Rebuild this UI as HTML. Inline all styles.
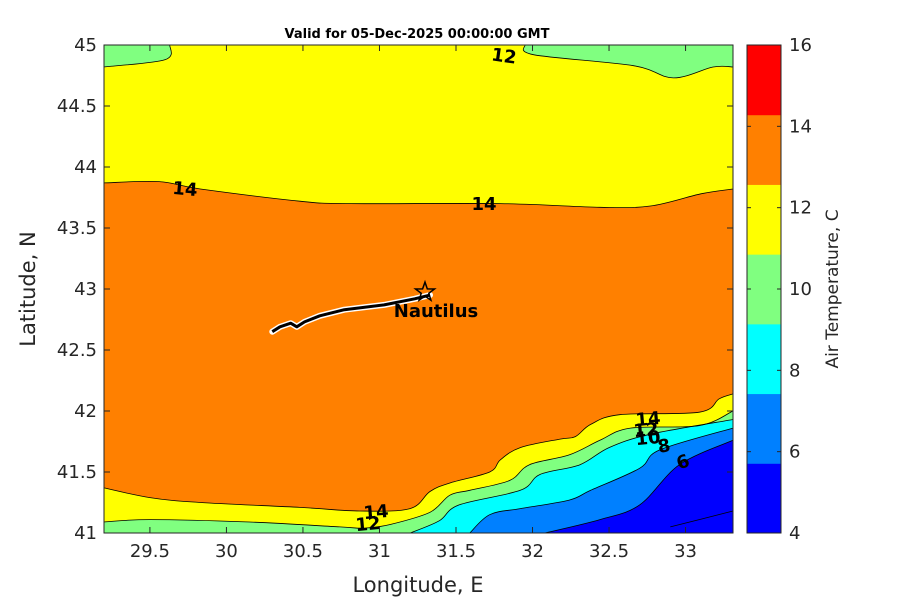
<!DOCTYPE html>
<html><head><meta charset="utf-8"><style>
body{margin:0;background:#fff;}
svg text{font-family:"DejaVu Sans","Liberation Sans",sans-serif;}
</style></head><body>
<svg id="chart" width="900" height="600" xmlns="http://www.w3.org/2000/svg">
<rect width="900" height="600" fill="#fff"/>
<g id="plot"></g>
<g id="axes"></g>
<g id="cbar"></g>
<text x="417" y="38" text-anchor="middle" font-size="13" font-weight="bold">Valid for 05-Dec-2025 00:00:00 GMT</text>
<text x="418" y="592" text-anchor="middle" font-size="21" fill="#262626">Longitude, E</text>
<text transform="translate(35,289) rotate(-90)" text-anchor="middle" font-size="21" fill="#262626">Latitude, N</text>
<text transform="translate(838,289) rotate(-90)" text-anchor="middle" font-size="17" fill="#262626">Air Temperature, C</text>
</svg>
<script>
const lonMin=29.2, lonMax=33.31, latMin=41, latMax=45;
const X0=104,X1=733,Y0=45,Y1=533;
function xs(lon){return X0+(lon-lonMin)/(lonMax-lonMin)*(X1-X0);}
function ys(lat){return Y1-(lat-latMin)/(latMax-latMin)*(Y1-Y0);}
const xTicks=[29.5,30,30.5,31,31.5,32,32.5,33];
const yTicks=[41,41.5,42,42.5,43,43.5,44,44.5,45];
const cLevels=[4,6,8,10,12,14,16];
const cColors=['#0000ff','#0080ff','#00ffff','#80ff80','#ffff00','#ff8000','#ff0000'];
const topTwelveLine=[[31.95,45],[32.01,44.92],[32.66,44.83],[32.92,44.73],[33.18,44.82],[33.31,44.82]];
const topLeftTwelve=[[29.2,44.82],[29.6,44.88],[29.63,45]];
const topFourteen=[[29.2,43.87],[29.56,43.88],[29.83,43.82],[30.48,43.72],[30.81,43.70],[31.79,43.70],[32.44,43.67],[32.77,43.68],[33.1,43.78],[33.31,43.82]];
const botFourteen=[[29.2,41.37],[29.5,41.29],[29.83,41.25],[30.48,41.21],[30.87,41.18],[31.2,41.2],[31.33,41.34],[31.46,41.41],[31.72,41.5],[31.79,41.6],[31.92,41.7],[32.18,41.77],[32.28,41.79],[32.38,41.89],[32.57,41.97],[33.09,41.99],[33.22,42.1],[33.31,42.14]];
const botTwelve=[[29.2,41.09],[29.5,41.11],[30.15,41.09],[30.74,41.05],[30.9,41.04],[31.07,41.07],[31.33,41.17],[31.46,41.31],[31.59,41.35],[31.85,41.43],[31.98,41.56],[32.24,41.64],[32.44,41.76],[32.64,41.86],[33.09,41.88],[33.31,42.0]];
const botTen=[[31.2,41],[31.39,41.1],[31.52,41.23],[31.92,41.35],[32.05,41.48],[32.31,41.56],[32.5,41.7],[32.77,41.81],[33.31,41.93]];
const botEight=[[31.59,41],[31.72,41.15],[31.92,41.2],[32.24,41.27],[32.38,41.35],[32.7,41.53],[32.83,41.68],[33.31,41.86]];
const botSix=[[32.08,41],[32.44,41.11],[32.7,41.23],[32.96,41.56],[33.31,41.76]];
const cornerLine=[[32.9,41.05],[33.31,41.18]];
const trackLon=[30.3,30.35,30.42,30.46,30.51,30.61,30.77,31.03,31.23,31.33];
const trackLat=[42.65,42.69,42.72,42.69,42.73,42.78,42.83,42.87,42.92,42.95];
const NS='http://www.w3.org/2000/svg';
function mk(tag,attrs,parent){const e=document.createElementNS(NS,tag);for(const k in attrs)e.setAttribute(k,attrs[k]);parent.appendChild(e);return e;}
function smooth(a){
 const p=a.map(q=>[xs(q[0]),ys(q[1])]);
 let d='M'+p[0][0].toFixed(1)+','+p[0][1].toFixed(1);
 for(let i=0;i<p.length-1;i++){
  const p0=p[i-1]||p[i],p1=p[i],p2=p[i+1],p3=p[i+2]||p2;
  const c1=[p1[0]+(p2[0]-p0[0])/6,p1[1]+(p2[1]-p0[1])/6];
  const c2=[p2[0]-(p3[0]-p1[0])/6,p2[1]-(p3[1]-p1[1])/6];
  d+=' C'+c1.map(v=>v.toFixed(1)).join(',')+' '+c2.map(v=>v.toFixed(1)).join(',')+' '+p2[0].toFixed(1)+','+p2[1].toFixed(1);
 }
 return d;
}
const plot=document.getElementById('plot');
const bg=mk('rect',{x:X0,y:Y0,width:X1-X0,height:Y1-Y0,fill:cColors[5]},plot);


function addRegion(d,color,name){
 const p=mk('path',{d:d,fill:color},plot);
 
 
}
function fillBelow(line,color,name){
 addRegion(smooth(line)+' L'+xs(lonMax)+','+ys(latMin)+' L'+xs(line[0][0])+','+ys(latMin)+' Z',color,name);
}
function fillAbove(line,color,name){
 addRegion(smooth(line)+' L'+xs(lonMax)+','+ys(latMax)+' L'+xs(line[0][0])+','+ys(latMax)+' Z',color,name);
}
fillAbove(topFourteen,cColors[4],'region-top-yellow');
fillAbove(topTwelveLine,cColors[3],'region-top-green');
addRegion(smooth(topLeftTwelve)+' L'+xs(lonMin)+','+ys(latMax)+' Z',cColors[3],'region-topleft-green');
fillBelow(botFourteen,cColors[4],'region-bottom-yellow');
fillBelow(botTwelve,cColors[3],'region-bottom-green');
fillBelow(botTen,cColors[2],'region-bottom-cyan');
fillBelow(botEight,cColors[1],'region-bottom-lightblue');
fillBelow(botSix,cColors[0],'region-bottom-blue');
[topTwelveLine,topLeftTwelve,topFourteen,botFourteen,botTwelve,botTen,botEight,botSix,cornerLine].forEach(l=>{
 const p=mk('path',{d:smooth(l),fill:'none',stroke:'#000','stroke-width':0.8},plot);
 
 
});
const cl=[['12',504,62,8],['14',185,195,5],['14',484,210,0],['14',376,518,-5],['12',368,530,-5],['14',648,425,-5],['12',646,436,-5],['10',648,444,-5],['8',664,452,-10],['6',683,468,-20]];
cl.forEach(c=>{
 const t=mk('text',{x:c[1],y:c[2],'text-anchor':'middle','font-size':18,'font-weight':'bold',transform:`rotate(${c[3]} ${c[1]} ${c[2]-6})`},plot);
 t.textContent=c[0];
 
 
});
const td='M'+trackLon.map((v,i)=>xs(v).toFixed(1)+','+ys(trackLat[i]).toFixed(1)).join(' L');
const tw=mk('path',{d:td,fill:'none',stroke:'#fff','stroke-width':6,'stroke-linecap':'round','stroke-linejoin':'round'},plot);


const tb=mk('path',{d:td,fill:'none',stroke:'#000','stroke-width':3,'stroke-linejoin':'round'},plot);


const sx=xs(trackLon[trackLon.length-1])-5, sy=ys(trackLat[trackLat.length-1])-3;
let sp='';for(let i=0;i<10;i++){const r=i%2?4:10;const a=-Math.PI/2+i*Math.PI/5;sp+=(i?'L':'M')+(sx+r*Math.cos(a)).toFixed(1)+','+(sy+r*Math.sin(a)).toFixed(1);}
const star=mk('path',{d:sp+'Z',fill:'none',stroke:'#000','stroke-width':1.5},plot);


const nl=mk('text',{x:436,y:317,'text-anchor':'middle','font-size':18,'font-weight':'bold'},plot);
nl.textContent='Nautilus';


const ax=document.getElementById('axes');
const fr=mk('rect',{x:X0,y:Y0,width:X1-X0,height:Y1-Y0,fill:'none',stroke:'#262626','stroke-width':1},ax);


xTicks.forEach(v=>{
 const x=xs(v);
 mk('line',{x1:x,x2:x,y1:Y1,y2:Y1-6,stroke:'#262626'},ax);
 mk('line',{x1:x,x2:x,y1:Y0,y2:Y0+6,stroke:'#262626'},ax);
 const t=mk('text',{x:x,y:Y1+24,'text-anchor':'middle','font-size':18,fill:'#262626'},ax);
 t.textContent=String(v);
 
 
});
yTicks.forEach(v=>{
 const y=ys(v);
 mk('line',{x1:X0,x2:X0+6,y1:y,y2:y,stroke:'#262626'},ax);
 mk('line',{x1:X1,x2:X1-6,y1:y,y2:y,stroke:'#262626'},ax);
 const t=mk('text',{x:X0-7,y:y+6,'text-anchor':'end','font-size':18,fill:'#262626'},ax);
 t.textContent=String(v);
 
 
});
const cb=document.getElementById('cbar');
const CX=747,CW=34;
const bandH=(Y1-Y0)/cColors.length;
cColors.forEach((c,i)=>{
 const r=mk('rect',{x:CX,y:Y1-(i+1)*bandH,width:CW,height:bandH+0.5,fill:c},cb);
 
 
});
mk('rect',{x:CX,y:Y0,width:CW,height:Y1-Y0,fill:'none',stroke:'#262626'},cb);
cLevels.forEach(v=>{
 const y=Y1-(v-4)/12*(Y1-Y0);
 mk('line',{x1:CX,x2:CX+4,y1:y,y2:y,stroke:'#262626'},cb);
 mk('line',{x1:CX+CW,x2:CX+CW-4,y1:y,y2:y,stroke:'#262626'},cb);
 const t=mk('text',{x:CX+CW+8,y:y+6,'font-size':18,fill:'#262626'},cb);
 t.textContent=String(v);
 
 
});
</script>
</body></html>
